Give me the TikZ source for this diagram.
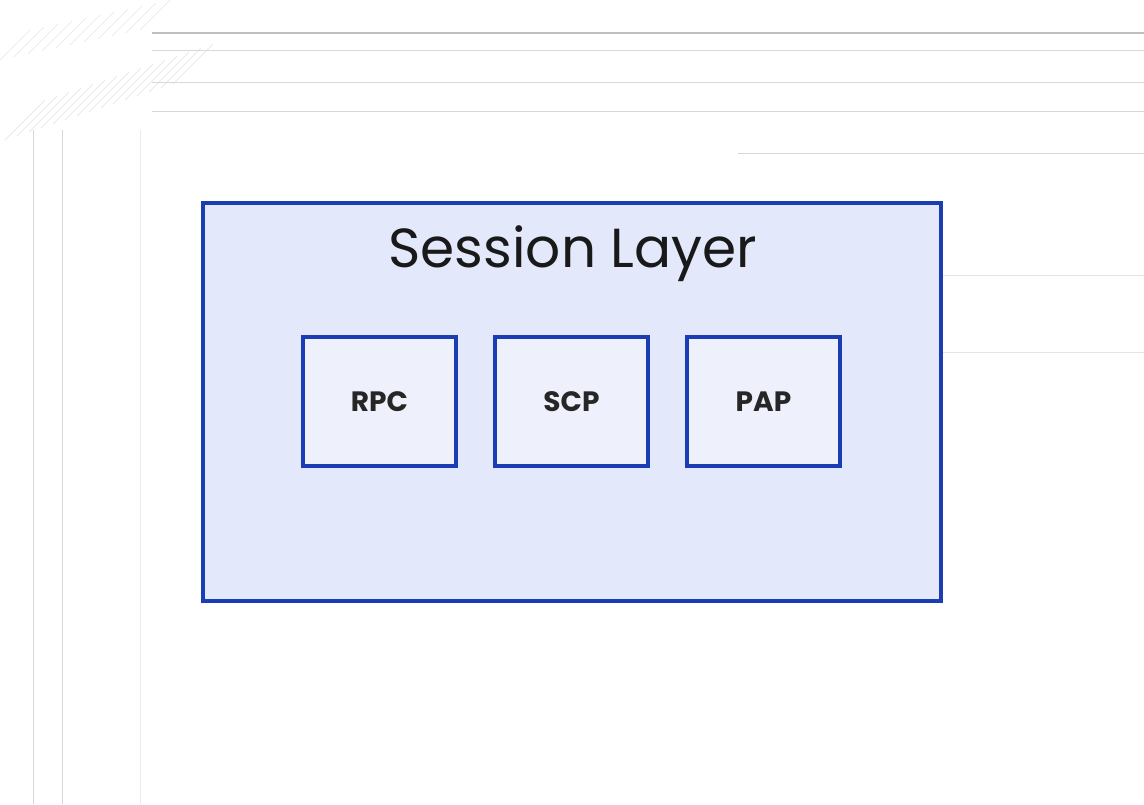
\documentclass[tikz,border=0pt]{standalone}
\usepackage{fontspec}
\setmainfont{Poppins}
\usepackage{tikz}
\usetikzlibrary{positioning}
\definecolor{layerblue}{HTML}{1B3DB3}
\definecolor{layerfill}{HTML}{E3E8FA}
\definecolor{protofill}{HTML}{EEF0FB}
\definecolor{gridgray}{HTML}{D8D8D8}

\begin{document}
\begin{tikzpicture}[x=1pt,y=-1pt,
layernode/.style={rectangle, draw=layerblue, fill=layerfill, line width=4pt, minimum width=738pt, minimum height=398pt},
protonode/.style={rectangle, draw=layerblue, fill=protofill, line width=4pt, minimum width=153pt, minimum height=129pt, font=\fontsize{28}{32}\selectfont\bfseries, text=black!85},
gridline/.style={draw=gridgray, line width=0.8pt},
]
\useasboundingbox (0,0) rectangle (1144,804);
%Background
\draw[gridline, line width=1.6pt, draw=black!25] (152,33) -- (1144,33);
\draw[gridline] (152,50) -- (1144,50);
\draw[gridline] (152,82) -- (1144,82);
\draw[gridline] (152,111) -- (1144,111);
\draw[gridline] (738,153) -- (1144,153);
\draw[gridline, draw=black!10] (738,275) -- (1144,275);
\draw[gridline, draw=black!10] (738,352) -- (1144,352);
\draw[gridline] (33,130) -- (33,804);
\draw[gridline] (62,130) -- (62,804);
\draw[gridline, draw=black!8] (140,130) -- (140,804);
\foreach \i in {0,...,14}
  \draw[gridline, draw=black!12, line width=0.6pt] (5+12*\i,140-4*\i) -- (45+12*\i,100-4*\i);
\foreach \i in {0,...,10}
  \draw[gridline, draw=black!10, line width=0.6pt] (0+14*\i,60-3*\i) -- (30+14*\i,30-3*\i);

%Nodes
\node[layernode]  (layer)  at (572,402) {};
\node[font=\fontsize{55}{60}\selectfont, text=black!90] (title) at (573,254) {Session Layer};
\node[protonode]  (rpc)    at (379.5,401.5) {RPC};
\node[protonode]  (scp)    [right=35pt of rpc] {SCP};
\node[protonode]  (pap)    [right=35pt of scp] {PAP};

\end{tikzpicture}
\end{document}
